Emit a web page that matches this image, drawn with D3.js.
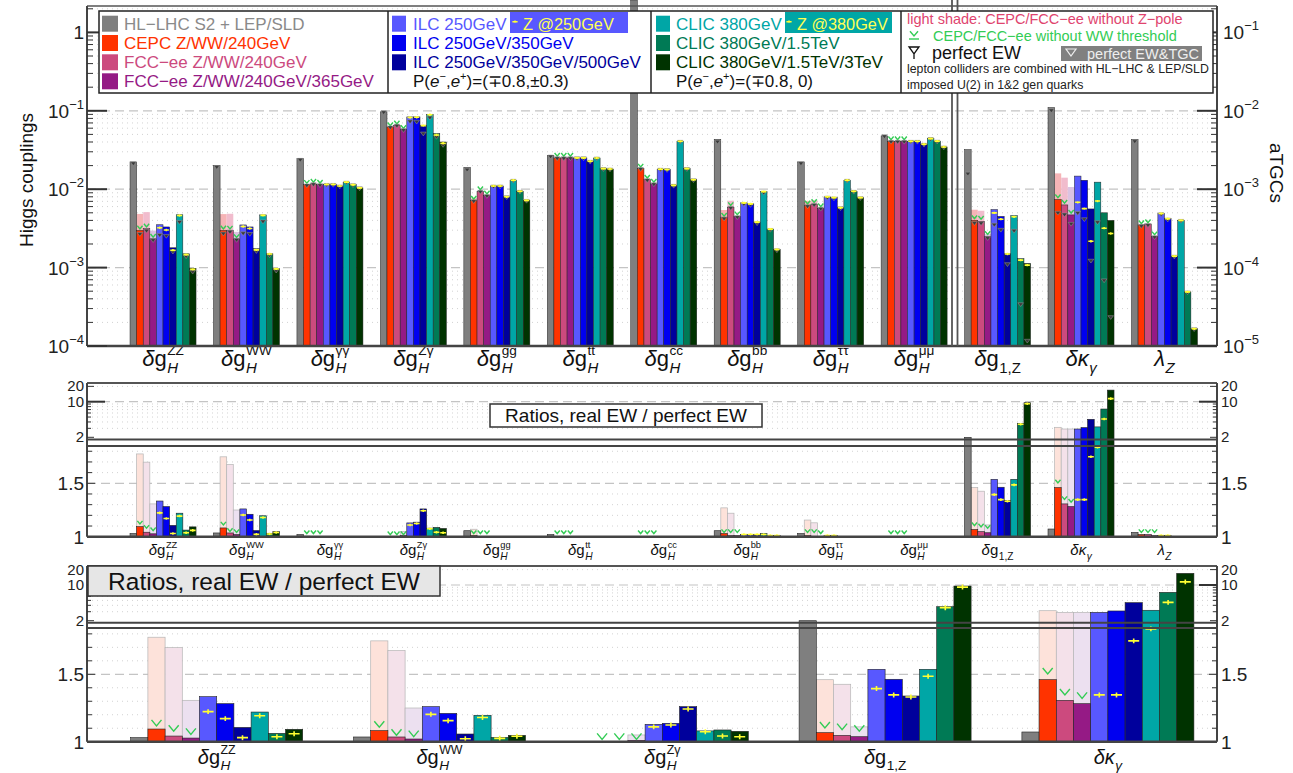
<!DOCTYPE html>
<html>
<head>
<meta charset="utf-8">
<script src="https://cdn.jsdelivr.net/npm/d3@7"></script>
<style>
body { margin: 0; background: #fff; }
svg { font-family: "Liberation Sans", Arial, sans-serif; }
</style>
</head>
<body>
<svg id="chart" width="1293" height="773"></svg>
<script>
// categories: 10 Higgs couplings + 3 aTGCs
var categories = ["ZZ", "WW", "γγ", "Zγ", "gg", "tt", "cc", "bb", "ττ", "μμ", "g1Z", "κγ", "λZ"];
var zoomCategories = ["ZZ", "WW", "Zγ", "g1Z", "κγ"];

var colliders = ["HL−LHC S2 + LEP/SLD", "CEPC Z/WW/240GeV", "FCC−ee Z/WW/240GeV", "FCC−ee Z/WW/240GeV/365GeV",
  "ILC 250GeV", "ILC 250GeV/350GeV", "ILC 250GeV/350GeV/500GeV",
  "CLIC 380GeV", "CLIC 380GeV/1.5TeV", "CLIC 380GeV/1.5TeV/3TeV"];

// precision reach (Higgs couplings for the first 10, aTGCs for the last 3)
var hllhc    = [0.0223, 0.0201, 0.0245, 0.097, 0.019, 0.027, 5, 0.0433, 0.0223, 0.0479, 3.2e-3, 1.1e-2, 4.3e-3];
var cepc     = [0.00298, 0.00298, 0.0114, 0.0623, 0.0072, 0.0251, 0.0183, 0.0044, 0.0062, 0.0408, 4.0e-4, 7.4e-4, 3.5e-4];
var fcc240   = [0.00313, 0.0030, 0.0117, 0.0655, 0.0094, 0.0251, 0.0132, 0.0059, 0.0064, 0.0408, 3.9e-4, 6.3e-4, 3.6e-4];
var fcc365   = [0.00233, 0.00233, 0.0114, 0.058, 0.0083, 0.0251, 0.0117, 0.0045, 0.0057, 0.0408, 2.5e-4, 4.7e-4, 2.5e-4];
var ilc250   = [0.00352, 0.0035, 0.0115, 0.0836, 0.011, 0.0251, 0.018, 0.0067, 0.0080, 0.0408, 5.5e-4, 1.47e-3, 4.9e-4];
var ilc350   = [0.0033, 0.0033, 0.0115, 0.0836, 0.011, 0.0251, 0.0178, 0.0065, 0.0078, 0.0408, 4.5e-4, 1.3e-3, 4.2e-4];
var ilc500   = [0.00179, 0.00174, 0.0110, 0.0655, 0.0080, 0.0227, 0.0112, 0.0038, 0.0058, 0.0374, 1.5e-4, 5.6e-4, 1.4e-4];
var clic380  = [0.00472, 0.0047, 0.0123, 0.0895, 0.0130, 0.0250, 0.0408, 0.0094, 0.0130, 0.0442, 4.6e-4, 1.23e-3, 4.0e-4];
var clic1500 = [0.0015, 0.0015, 0.0114, 0.0512, 0.0094, 0.0183, 0.0183, 0.0031, 0.0094, 0.0410, 1.3e-4, 5.0e-4, 4.9e-5];
var clic3000 = [0.00098, 0.00097, 0.0104, 0.0400, 0.0072, 0.0181, 0.0132, 0.0017, 0.0078, 0.0346, 1.13e-4, 4.0e-4, 1.66e-5];

// ratios, real EW / perfect EW
var rHllhc    = [1.03, 1.035, 1.02, 1.0, 1.056, 1.02, 1.0, 1.056, 1.03, 1.0, 2.0, 1.072, 1.04];
var rCepc     = [1.094, 1.082, 1.005, 1.0, 1.01, 1.0, 1.0, 1.03, 1.01, 1.0, 1.067, 1.46, 1.02];
var rFcc240   = [1.042, 1.035, 1.0, 1.0, 1.0, 1.0, 1.0, 1.01, 1.0, 1.0, 1.047, 1.307, 1.02];
var rFcc365   = [1.027, 1.02, 1.0, 1.01, 1.0, 1.0, 1.0, 1.01, 1.0, 1.0, 1.037, 1.282, 1.01];
var rIlc250   = [1.334, 1.26, 1.0, 1.129, 1.0, 1.0, 1.0, 1.02, 1.01, 1.0, 1.537, 2.91, 1.01];
var rIlc350   = [1.282, 1.21, 1.0, 1.136, 1.0, 1.0, 1.0, 1.02, 1.01, 1.0, 1.463, 3.1, 1.01];
var rIlc500   = [1.106, 1.057, 1.0, 1.26, 1.0, 1.0, 1.0, 1.02, 1.0, 1.0, 1.339, 4.51, 1.0];
var rClic380  = [1.22, 1.196, 1.0, 1.08, 1.0, 1.0, 1.0, 1.03, 1.0, 1.0, 1.537, 3.2, 1.0];
var rClic1500 = [1.062, 1.032, 1.0, 1.087, 1.0, 1.0, 1.0, 1.01, 1.0, 1.0, 3.76, 7.18, 1.0];
var rClic3000 = [1.092, 1.047, 1.0, 1.077, 1.0, 1.0, 1.0, 1.01, 1.0, 1.0, 9.55, 16.9, 1.0];

// light shade: CEPC/FCC-ee without Z-pole (ratio to perfect EW)
var shadeCepc   = [1.775, 1.748, 1.0, 1.0, 1.07, 1.0, 1.0, 1.27, 1.156, 1.0, 1.46, 3.14, 1.0];
var shadeFcc240 = [1.698, 1.676, 1.0, 1.0, 1.0, 1.0, 1.0, 1.22, 1.13, 1.0, 1.426, 2.91, 1.0];
var shadeFcc365 = [1.307, 1.25, 1.0, 1.05, 1.0, 1.0, 1.0, 1.0, 1.0, 1.0, 1.11, 2.91, 1.0];

// CEPC/FCC-ee without WW threshold (ratio to perfect EW)
var noWWCepc   = [1.11, 1.10, 1.02, 1.01, 1.02, 1.02, 1.02, 1.03, 1.03, 1.02, 1.094, 1.495, 1.03];
var noWWFcc240 = [1.07, 1.04, 1.02, 1.01, 1.02, 1.02, 1.02, 1.03, 1.03, 1.02, 1.082, 1.339, 1.03];
var noWWFcc365 = [1.047, 1.03, 1.02, 1.01, 1.02, 1.02, 1.02, 1.03, 1.02, 1.02, 1.07, 1.314, 1.03];

// ILC/CLIC + Z-pole run (ratio to perfect EW)
var zIlc250   = [1.223, 1.203, 1.0, 1.11, 1.0, 1.0, 1.0, 1.02, 1.01, 1.0, 1.394, 1.347, 1.01];
var zIlc350   = [1.171, 1.156, 1.0, 1.124, 1.0, 1.0, 1.0, 1.02, 1.01, 1.0, 1.347, 1.347, 1.01];
var zIlc500   = [1.03, 1.022, 1.0, 1.243, 1.0, 1.0, 1.0, 1.02, 1.0, 1.0, 1.332, 1.748, 1.0];
var zClic380  = [1.193, 1.18, 1.0, 1.074, 1.0, 1.0, 1.0, 1.02, 1.0, 1.0, 1.485, 1.837, 1.0];
var zClic1500 = [1.037, 1.025, 1.0, 1.042, 1.0, 1.0, 1.0, 1.01, 1.0, 1.0, 3.6, 4.57, 1.0];
var zClic3000 = [1.059, 1.04, 1.0, 1.037, 1.0, 1.0, 1.0, 1.01, 1.0, 1.0, 9.1, 11.5, 1.0];

var leftExp = [-4, -3, -2, -1, 0];
var rightExp = [-5, -4, -3, -2, -1];

var topValues = [hllhc, cepc, fcc240, fcc365, ilc250, ilc350, ilc500, clic380, clic1500, clic3000];
var ratios = [rHllhc, rCepc, rFcc240, rFcc365, rIlc250, rIlc350, rIlc500, rClic380, rClic1500, rClic3000];
var shades = [shadeCepc, shadeFcc240, shadeFcc365];
var noWW = [noWWCepc, noWWFcc240, noWWFcc365];
var zPole = [zIlc250, zIlc350, zIlc500, zClic380, zClic1500, zClic3000];

var colors = ["#7f7f7f", "#ff3300", "#cc4a7e", "#951a85", "#5858ff", "#0000f0", "#00009c", "#00a6a6", "#007a55", "#003300"];
var textColors = ["#8a8a8a", "#ff3300", "#cc4a7e", "#951a85", "#5858ff", "#0000f0", "#00009c", "#00a6a6", "#007a55", "#003300"];
var shadeTop = ["#f6b4b6", "#f1bccd", "#dcc3e2"];
var shadeLow = ["#fde2da", "#f4e1ea", "#ece0f0"];

var labelParts = {
  "ZZ": ["δ", "g", "H", "ZZ"], "WW": ["δ", "g", "H", "WW"], "γγ": ["δ", "g", "H", "γγ"], "Zγ": ["δ", "g", "H", "Zγ"],
  "gg": ["δ", "g", "H", "gg"], "tt": ["δ", "g", "H", "tt"], "cc": ["δ", "g", "H", "cc"], "bb": ["δ", "g", "H", "bb"],
  "ττ": ["δ", "g", "H", "ττ"], "μμ": ["δ", "g", "H", "μμ"],
  "g1Z": ["δ", "g", "1,Z", null], "κγ": ["δ", "κ", "γ", null], "λZ": ["", "λ", "Z", null]
};

var svg = d3.select("#chart");
var L = 87, R = 1217;

function hline(g, y, x0, x1, kind) {
  g.append("line").attr("x1", x0).attr("x2", x1).attr("y1", y).attr("y2", y)
    .attr("stroke", kind == "dash" ? "#c4c4c4" : "#d2d2d2")
    .attr("stroke-width", kind == "dash" ? 1.2 : 1)
    .attr("stroke-dasharray", kind == "dash" ? "9,5" : "1,4");
}

function catLabel(g, key, cx, by, fs) {
  var p = labelParts[key];
  var grp = g.append("g");
  var main = grp.append("text").attr("y", by).style("font-size", fs + "px").attr("fill", "#111");
  main.append("tspan").style("font-style", "italic").text(p[0]);
  main.append("tspan").style("font-style", p[1] == "g" ? "normal" : "italic").text(p[1]);
  var w = main.node().getComputedTextLength() + 0.5;
  var sub = grp.append("text").attr("x", w).attr("y", by + fs * 0.3).style("font-size", (fs * 0.68) + "px")
    .style("font-style", p[2] == "1,Z" ? "normal" : "italic").attr("fill", "#111").text(p[2]);
  var ws = sub.node().getComputedTextLength(), wsup = 0;
  if (p[3]) {
    var sup = grp.append("text").attr("x", w).attr("y", by - fs * 0.48).style("font-size", (fs * 0.62) + "px")
      .attr("fill", "#111").text(p[3]);
    wsup = sup.node().getComputedTextLength();
  }
  var total = w + Math.max(ws, wsup);
  grp.attr("transform", "translate(" + (cx - total / 2) + ",0)");
}

function markEW(g, x, y, s) {
  g.append("path").attr("d", "M" + (x - s) + "," + (y - 1) + "L" + (x + s) + "," + (y - 1) + "L" + x + "," + (y + s) + "Z")
    .attr("fill", "#3a3a3a").attr("stroke", "#999").attr("stroke-width", 0.5);
}
function markV(g, x, y, s) {
  g.append("path").attr("d", "M" + (x - s) + "," + (y - s * 1.2) + "L" + x + "," + y + "L" + (x + s) + "," + (y - s * 1.2))
    .attr("fill", "none").attr("stroke", "#33cc55").attr("stroke-width", 1.4);
}
function markZ(g, x, y, s) {
  g.append("path").attr("d", "M" + (x - s) + "," + y + "L" + (x + s) + "," + y + "M" + x + "," + (y - s * 0.45) + "L" + x + "," + (y + s * 0.45))
    .attr("stroke", "#ffff33").attr("stroke-width", 1.6);
}

// ---------------- top panel ----------------
var yL = d3.scaleLog().domain([1e-4, 1]).range([346, 32.4]);
var yR = d3.scaleLog().domain([1e-5, 0.1]).range([346, 32.4]);
var xTop = d3.scaleBand().domain(categories).range([121.3, 1206.2]).paddingInner(0.209).paddingOuter(0.1045);
var xSub = d3.scaleBand().domain(d3.range(10)).range([0, xTop.bandwidth()]);

var topPanel = svg.append("g");
leftExp.forEach(function (e) {
  var d = Math.pow(10, e);
  for (var m = 1; m < 10; m++) {
    var y = yL(d * m);
    if (y < 8) continue;
    if (!(e == -4 && m == 1)) hline(topPanel, y, L, R, m == 1 ? "dash" : "dot");
  }
});

categories.forEach(function (c, ci) {
  var sc = ci >= 10 ? yR : yL;
  var x0 = xTop(c), bw = xSub.bandwidth();
  // light shades
  for (var s = 1; s <= 3; s++) {
    var pv = topValues[s][ci] / ratios[s][ci];
    var sv = pv * shades[s - 1][ci];
    if (sv > topValues[s][ci]) {
      topPanel.append("rect").attr("x", x0 + xSub(s)).attr("width", bw).attr("y", sc(sv)).attr("height", 346 - sc(sv))
        .attr("fill", shadeTop[s - 1]);
    }
  }
  topValues.forEach(function (vals, si) {
    var y = Math.max(0, sc(vals[ci]));
    topPanel.append("rect").attr("x", x0 + xSub(si)).attr("width", bw).attr("y", y).attr("height", 346 - y)
      .attr("fill", colors[si]).attr("stroke", "#222").attr("stroke-width", 0.5);
  });
  topValues.forEach(function (vals, si) {
    var cx = x0 + xSub(si) + bw / 2;
    var pv = vals[ci] / ratios[si][ci];
    var py = sc(pv);
    if (py < 8) return;
    if (si >= 1 && si <= 3) markV(topPanel, cx, sc(pv * noWW[si - 1][ci]) - 1, 2.6);
    markEW(topPanel, cx, py, 2.8);
    if (si >= 4) markZ(topPanel, cx, sc(pv * zPole[si - 4][ci]), 2.6);
  });
  catLabel(topPanel, c, x0 + xTop.bandwidth() / 2, 366, 22);
});

// frame
topPanel.append("line").attr("x1", L).attr("x2", R).attr("y1", 6).attr("y2", 6).attr("stroke", "#555").attr("stroke-width", 1.5);
topPanel.append("line").attr("x1", L).attr("x2", R).attr("y1", 346).attr("y2", 346).attr("stroke", "#444").attr("stroke-width", 2.5);
[L, R].forEach(function (x) {
  topPanel.append("line").attr("x1", x).attr("x2", x).attr("y1", 6).attr("y2", 346).attr("stroke", "#444").attr("stroke-width", 2);
});
[952, 957.5].forEach(function (x) {
  topPanel.append("line").attr("x1", x).attr("x2", x).attr("y1", 0).attr("y2", 346).attr("stroke", "#555").attr("stroke-width", 1.8);
});

// ticks + labels
leftExp.forEach(function (e, i) {
  var d = Math.pow(10, e);
  for (var m = 1; m < 10; m++) {
    var y = yL(d * m);
    if (y < 7) continue;
    var len = m == 1 ? 20 : 6;
    topPanel.append("line").attr("x1", L).attr("x2", L + len).attr("y1", y).attr("y2", y).attr("stroke", "#333").attr("stroke-width", m == 1 ? 2 : 1);
    topPanel.append("line").attr("x1", R).attr("x2", R - len).attr("y1", y).attr("y2", y).attr("stroke", "#333").attr("stroke-width", m == 1 ? 2 : 1);
  }
  var y0 = yL(d);
  var t = topPanel.append("text").attr("x", 84).attr("y", y0 + 7).attr("text-anchor", "end").style("font-size", "19px").attr("fill", "#222");
  if (e == 0) t.text("1");
  else { t.append("tspan").text("10"); t.append("tspan").attr("dy", -9).style("font-size", "13px").text("−" + (-e)); }
  var t2 = topPanel.append("text").attr("x", 1223).attr("y", y0 + 7).style("font-size", "19px").attr("fill", "#222");
  t2.append("tspan").text("10");
  t2.append("tspan").attr("dy", -9).style("font-size", "13px").text("−" + (-rightExp[i]));
});
topPanel.append("text").attr("transform", "translate(33,180) rotate(-90)").attr("text-anchor", "middle")
  .style("font-size", "19px").attr("fill", "#111").text("Higgs couplings");
topPanel.append("text").attr("transform", "translate(1270,173) rotate(90)").attr("text-anchor", "middle")
  .style("font-size", "19px").attr("fill", "#111").text("aTGCs");

// ---------------- legend ----------------
var lg = svg.append("g");
lg.append("rect").attr("x", 99).attr("y", 11).attr("width", 1114).attr("height", 82).attr("fill", "#fff").attr("stroke", "#222").attr("stroke-width", 1.5);
[388, 651, 901].forEach(function (x) {
  lg.append("line").attr("x1", x).attr("x2", x).attr("y1", 11).attr("y2", 93).attr("stroke", "#222").attr("stroke-width", 1.5);
});
var rowY = [23.7, 43, 62.3, 81.3];
var legendCols = [{ sx: 102, tx: 124, items: [0, 1, 2, 3] }, { sx: 392, tx: 413, items: [4, 5, 6] }, { sx: 656, tx: 676, items: [7, 8, 9] }];
// Z-pole highlight boxes
lg.append("rect").attr("x", 510).attr("y", 12).attr("width", 118).attr("height", 21).attr("fill", "#5858ff");
lg.append("rect").attr("x", 785).attr("y", 12).attr("width", 107).attr("height", 21).attr("fill", "#00a6a6");
legendCols.forEach(function (col) {
  col.items.forEach(function (si, r) {
    lg.append("rect").attr("x", col.sx).attr("y", rowY[r] - 8).attr("width", col.sx == 102 ? 16 : 14).attr("height", 16).attr("fill", colors[si]);
    lg.append("text").attr("x", col.tx).attr("y", rowY[r] + 6).style("font-size", "17px").attr("fill", textColors[si]).text(colliders[si]);
  });
});
[[515, "Z @250GeV"], [789, "Z @380GeV"]].forEach(function (z) {
  markZ(lg, z[0], rowY[0] - 2, 2.6);
  lg.append("text").attr("x", z[0] + 8).attr("y", rowY[0] + 6).style("font-size", "16.3px").attr("fill", "#ffff55").text(z[1]);
});
[[413, "±0.3"], [676, " 0"]].forEach(function (p) {
  var t = lg.append("text").attr("x", p[0]).attr("y", rowY[3] + 6).style("font-size", "17px").attr("fill", "#111");
  t.append("tspan").text("P(");
  t.append("tspan").style("font-style", "italic").text("e");
  t.append("tspan").attr("dy", -7).style("font-size", "11px").text("−");
  t.append("tspan").attr("dy", 7).text(",");
  t.append("tspan").style("font-style", "italic").text("e");
  t.append("tspan").attr("dy", -7).style("font-size", "11px").text("+");
  t.append("tspan").attr("dy", 7).text(")=(∓0.8," + p[1] + ")");
});
lg.append("text").attr("x", 907).attr("y", 24).style("font-size", "14.5px").attr("fill", "#e0446e").text("light shade: CEPC/FCC−ee without Z−pole");
markV(lg, 914, 36, 4);
lg.append("line").attr("x1", 909).attr("x2", 919).attr("y1", 39).attr("y2", 39).attr("stroke", "#33cc55").attr("stroke-width", 1.4);
lg.append("text").attr("x", 933).attr("y", 41).style("font-size", "14.5px").attr("fill", "#33cc55").text("CEPC/FCC−ee without WW threshold");
lg.append("path").attr("d", "M909,47L919,47L914,54ZM914,54L914,59").attr("fill", "none").attr("stroke", "#111").attr("stroke-width", 1.3);
lg.append("text").attr("x", 932).attr("y", 59).style("font-size", "18px").attr("fill", "#111").text("perfect EW");
lg.append("rect").attr("x", 1061).attr("y", 46).attr("width", 141).attr("height", 15).attr("fill", "#808080");
lg.append("path").attr("d", "M1066,49L1076,49L1071,56Z").attr("fill", "none").attr("stroke", "#eee").attr("stroke-width", 1.2);
lg.append("text").attr("x", 1087).attr("y", 59).style("font-size", "14.5px").attr("fill", "#eee").text("perfect EW&TGC");
lg.append("text").attr("x", 907).attr("y", 73).style("font-size", "12.3px").attr("fill", "#222").text("lepton colliders are combined with HL−LHC & LEP/SLD");
lg.append("text").attr("x", 907).attr("y", 89).style("font-size", "12.3px").attr("fill", "#222").text("imposed U(2) in 1&2 gen quarks");

// ---------------- ratio panels ----------------
function ratioPanel(p) {
  var g = svg.append("g");
  var linMax = p.yLin.invert(p.linTop);
  function yv(v) {
    if (v <= linMax) return p.yLin(v);
    if (v >= 2) return Math.max(p.top, p.yLog(v));
    return p.linTop;
  }
  [3, 4, 5, 6, 7, 8, 9, 20].forEach(function (v) { hline(g, p.yLog(v), L, R, "dot"); });
  hline(g, p.yLog(10), L, R, "dash");
  [1.1, 1.2, 1.3, 1.4, 1.6, 1.7, 1.8].forEach(function (v) { hline(g, p.yLin(v), L, R, "dot"); });
  hline(g, p.yLin(1.5), L, R, "dash");

  var xs = d3.scaleBand().domain(d3.range(10)).range([0, p.x.bandwidth()]);
  var bw = xs.bandwidth();
  function bar(x, v, fill, stroke, sw) {
    var yt = v >= 2 ? Math.max(p.top, p.yLog(v)) : p.yLin(Math.min(v, linMax));
    g.append("rect").attr("x", x).attr("width", bw).attr("y", yt).attr("height", p.yLin(1) - yt)
      .attr("fill", fill).attr("stroke", stroke).attr("stroke-width", sw);
  }
  p.cats.forEach(function (c, k) {
    var ci = categories.indexOf(c);
    var x0 = p.x(c);
    for (var s = 1; s <= 3; s++) {
      if (shades[s - 1][ci] > 1.001) bar(x0 + xs(s), shades[s - 1][ci], shadeLow[s - 1], "#b5b5b5", 0.7);
    }
    ratios.forEach(function (r, si) {
      if (r[ci] > 1.0005) bar(x0 + xs(si), r[ci], colors[si], "#222", 0.6);
    });
    ratios.forEach(function (r, si) {
      var cx = x0 + xs(si) + bw / 2;
      if (si >= 1 && si <= 3) markV(g, cx, yv(noWW[si - 1][ci]) - 1, p.mk);
      if (si >= 4 && zPole[si - 4][ci] > 1.0005) markZ(g, cx, yv(zPole[si - 4][ci]), p.mk * 1.1);
    });
    catLabel(g, c, x0 + p.x.bandwidth() / 2, p.labelY, p.labelSize);
  });

  // frame and break
  g.append("line").attr("x1", L).attr("x2", R).attr("y1", p.top).attr("y2", p.top).attr("stroke", "#555").attr("stroke-width", 2);
  [p.logBottom, p.linTop].forEach(function (y) {
    g.append("line").attr("x1", L).attr("x2", R).attr("y1", y).attr("y2", y).attr("stroke", "#444").attr("stroke-width", 2);
  });
  g.append("line").attr("x1", L).attr("x2", R).attr("y1", p.yLin(1)).attr("y2", p.yLin(1)).attr("stroke", "#444").attr("stroke-width", 2.5);
  [L, R].forEach(function (x) {
    g.append("line").attr("x1", x).attr("x2", x).attr("y1", p.top).attr("y2", p.yLin(1)).attr("stroke", "#444").attr("stroke-width", 2);
  });
  // ticks
  [2, 3, 4, 5, 6, 7, 8, 9, 10, 20].forEach(function (v) {
    var len = v == 10 ? 18 : (v == 2 || v == 20 ? 7 : 4);
    var y = p.yLog(v);
    g.append("line").attr("x1", L).attr("x2", L + len).attr("y1", y).attr("y2", y).attr("stroke", "#333").attr("stroke-width", v == 10 ? 2 : 1);
    g.append("line").attr("x1", R).attr("x2", R - len).attr("y1", y).attr("y2", y).attr("stroke", "#333").attr("stroke-width", v == 10 ? 2 : 1);
  });
  [1.1, 1.2, 1.3, 1.4, 1.5, 1.6, 1.7, 1.8].forEach(function (v) {
    var y = p.yLin(v), len = v == 1.5 ? 8 : 5;
    g.append("line").attr("x1", L).attr("x2", L + len).attr("y1", y).attr("y2", y).attr("stroke", "#333");
    g.append("line").attr("x1", R).attr("x2", R - len).attr("y1", y).attr("y2", y).attr("stroke", "#333");
  });
  [20, 10, 2].forEach(function (v) {
    var y = p.yLog(v) + 5;
    g.append("text").attr("x", 84).attr("y", y).attr("text-anchor", "end").style("font-size", "15px").attr("fill", "#222").text(v);
    g.append("text").attr("x", 1221).attr("y", y).style("font-size", "15px").attr("fill", "#222").text(v);
  });
  [1, 1.5].forEach(function (v) {
    var y = p.yLin(v) + 7;
    g.append("text").attr("x", 84).attr("y", y).attr("text-anchor", "end").style("font-size", "19px").attr("fill", "#222").text(v);
    g.append("text").attr("x", 1221).attr("y", y).style("font-size", "19px").attr("fill", "#222").text(v);
  });
  // title box
  g.append("rect").attr("x", p.box[0]).attr("y", p.box[1]).attr("width", p.box[2]).attr("height", p.box[3])
    .attr("fill", p.boxFill).attr("stroke", "#333").attr("stroke-width", 1.5);
  g.append("text").attr("x", p.box[0] + p.box[2] / 2).attr("y", p.box[1] + p.box[3] / 2 + p.boxFont * 0.36)
    .attr("text-anchor", "middle").style("font-size", p.boxFont + "px").attr("fill", "#111").text("Ratios, real EW / perfect EW");
}

ratioPanel({
  cats: categories, x: xTop,
  top: 383, logBottom: 439.5, linTop: 446,
  yLog: d3.scaleLog().domain([2, 10]).range([437.3, 401.7]),
  yLin: d3.scaleLinear().domain([1, 1.5]).range([536.7, 483.3]),
  labelY: 555, labelSize: 15, mk: 2.6,
  box: [490, 404, 272, 23], boxFill: "#fff", boxFont: 19
});

var xBot = d3.scaleBand().domain(zoomCategories).range([105.3, 1219.3]).paddingInner(0.228).paddingOuter(0.114);
ratioPanel({
  cats: zoomCategories, x: xBot,
  top: 566, logBottom: 622.7, linTop: 628,
  yLog: d3.scaleLog().domain([2, 10]).range([620.7, 585]),
  yLin: d3.scaleLinear().domain([1, 1.5]).range([741.7, 674.3]),
  labelY: 764, labelSize: 20, mk: 5,
  box: [88, 566, 352, 30], boxFill: "#e6e6e6", boxFont: 24.5
});
</script>
</body>
</html>
